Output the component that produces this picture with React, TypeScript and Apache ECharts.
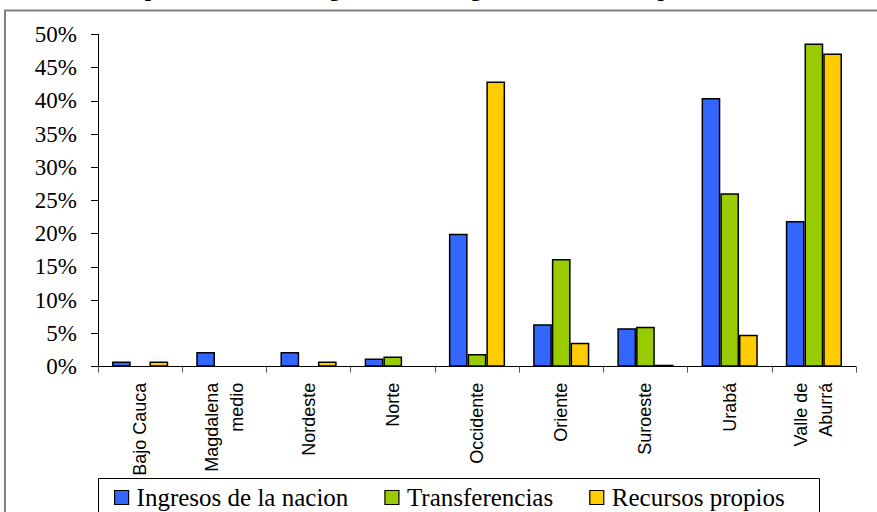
import React, { useEffect, useRef } from "react";
import * as echarts from "echarts";

const categories = [
  "Bajo Cauca",
  "Magdalena\nmedio",
  "Nordeste",
  "Norte",
  "Occidente",
  "Oriente",
  "Suroeste",
  "Urabá",
  "Valle de\nAburrá",
];
const ingresosNacion = [0.8, 2.2, 2.2, 1.25, 20.0, 6.4, 5.8, 40.4, 21.9];
const transferencias = [0, 0, 0, 1.55, 1.9, 16.2, 6.0, 26.1, 48.6];
const recursosPropios = [0.8, 0, 0.8, 0, 42.9, 3.6, 0.3, 4.8, 47.1];
const seriesNames = ["Ingresos de la nacion", "Transferencias", "Recursos propios"];
const seriesColors = ["#3366FF", "#99CC00", "#FFCC00"];
const titleText =
  "Distribución porcentual de las regiones en los ingresos de los municipios";

const clean = (arr: number[]) => arr.map((v) => (v === 0 ? null : v));

export default function App() {
  const ref = useRef<HTMLDivElement>(null);
  useEffect(() => {
    if (!ref.current) return;
    const chart = echarts.init(ref.current, null, { renderer: "svg" });
    const serif = "Liberation Serif";
    const sans = "Liberation Sans";
    const data = [ingresosNacion, transferencias, recursosPropios];
    chart.setOption({
      animation: false,
      backgroundColor: "#ffffff",
      grid: { left: 98, right: 21, top: 34.3, bottom: 145.3, containLabel: false },
      graphic: [
        {
          type: "rect",
          shape: { x: 5, y: 10.5, width: 900, height: 520 },
          style: { fill: "none", stroke: "#808080", lineWidth: 2 },
          silent: true,
        },
        {
          type: "rect",
          shape: { x: 98.5, y: 478.5, width: 721, height: 60 },
          style: { fill: "#ffffff", stroke: "#000000", lineWidth: 1 },
          silent: true,
        },
        {
          type: "text",
          x: 22,
          y: -1,
          style: {
            text: titleText,
            font: "bold 22px serif",
            fill: "#000",
            align: "left",
            verticalAlign: "bottom",
          },
          silent: true,
        },
      ],
      legend: {
        data: seriesNames,
        left: 114,
        top: 485,
        icon: "rect",
        itemWidth: 14,
        itemHeight: 14,
        itemGap: 36,
        padding: 0,
        textStyle: {
          fontFamily: serif,
          fontSize: 25,
          color: "#000",
          padding: [0, 0, 0, 3],
        },
        itemStyle: { borderColor: "#000", borderWidth: 1.2 },
      },
      xAxis: {
        type: "category",
        data: categories,
        axisLine: { lineStyle: { color: "#000", width: 1 } },
        axisTick: { show: true, length: 6, lineStyle: { color: "#555" } },
        axisLabel: {
          interval: 0,
          rotate: 90,
          margin: 16,
          fontFamily: sans,
          fontSize: 18,
          lineHeight: 25,
          color: "#000",
        },
      },
      yAxis: {
        type: "value",
        min: 0,
        max: 50,
        interval: 5,
        splitLine: { show: false },
        axisLine: { show: true, lineStyle: { color: "#000", width: 1 } },
        axisTick: { show: true, length: 7, lineStyle: { color: "#000" } },
        axisLabel: {
          formatter: "{value}%",
          fontFamily: serif,
          fontSize: 23,
          color: "#000",
          margin: 21,
        },
      },
      series: seriesNames.map((name, i) => ({
        name,
        type: "bar",
        data: clean(data[i]),
        barGap: "0%",
        barCategoryGap: "33.3%",
        itemStyle: {
          color: seriesColors[i],
          borderColor: "#000",
          borderWidth: 1.5,
        },
      })),
    });
    return () => chart.dispose();
  }, []);
  return (
    <div
      ref={ref}
      style={{ position: "fixed", left: 0, top: 0, width: 877, height: 512 }}
    />
  );
}
